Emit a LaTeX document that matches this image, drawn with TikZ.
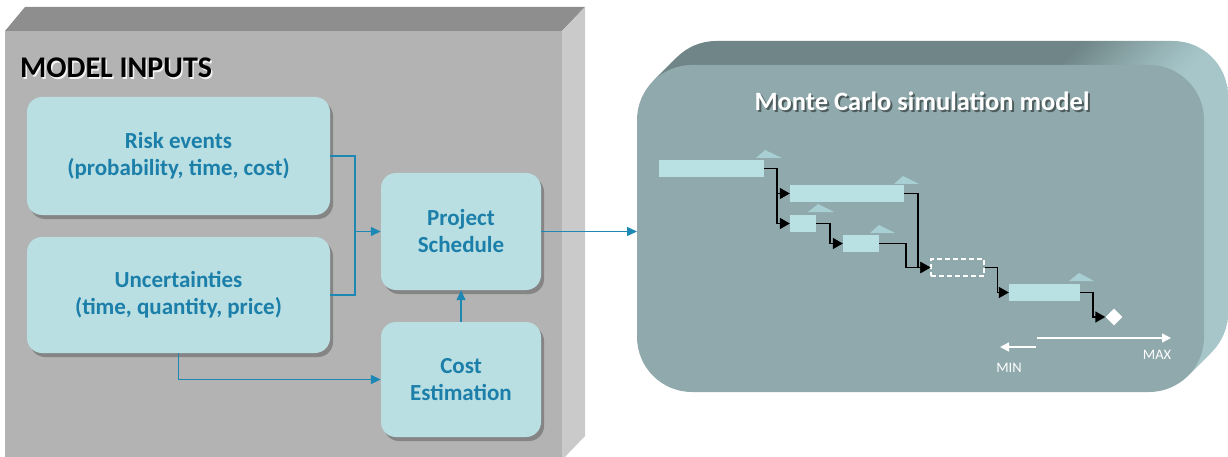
\documentclass[tikz,border=0pt]{standalone}
\usepackage{fontspec}
\setmainfont{Carlito}
\usetikzlibrary{arrows.meta,shadows,shapes.geometric}

\definecolor{boxfront}{HTML}{B3B3B3}
\definecolor{boxtop}{HTML}{8E8E8E}
\definecolor{boxside}{HTML}{CACACA}
\definecolor{cardfill}{HTML}{B9DFE2}
\definecolor{cardtext}{HTML}{1B7FAA}
\definecolor{cardshadow}{HTML}{858585}
\definecolor{linkblue}{HTML}{1E88B5}
\definecolor{mcfront}{HTML}{8FA9AC}
\definecolor{mctop}{HTML}{6F8587}
\definecolor{mcside}{HTML}{A6C6C9}
\definecolor{barfill}{HTML}{B9E0E3}
\definecolor{bartip}{HTML}{A8CFD3}

\pgfdeclarehorizontalshading{mcdepth}{100bp}{color(0bp)=(mctop); color(62bp)=(mctop); color(73bp)=(mcside); color(100bp)=(mcside)}

\tikzset{
  card/.style={draw=none, fill=cardfill, rounded corners=15pt, text=cardtext,
    font=\bfseries\fontsize{23}{27}\selectfont, align=center, inner sep=0pt,
    drop shadow={shadow xshift=3pt, shadow yshift=-4pt, fill=cardshadow, opacity=1}},
  link/.style={draw=linkblue, line width=1.4pt},
  linkarrow/.style={link, -{Triangle[length=10pt,width=9pt]}},
  bar/.style={fill=barfill, draw=none, inner sep=0pt, minimum height=17pt},
  gline/.style={draw=black, line width=1.5pt},
  garrow/.style={gline, -{Triangle[length=10pt,width=11pt]}},
  tip/.style={fill=bartip, draw=none},
  scale arrow/.style={draw=white, line width=1.4pt, -{Triangle[length=9pt,width=9pt]}},
  scale label/.style={text=white, font=\fontsize{14.5}{16}\selectfont, inner sep=0pt}
}

\begin{document}
\begin{tikzpicture}[x=1pt,y=-1pt]
\useasboundingbox (0,0) rectangle (1228,457);

% ---- input block (extruded box) ----
\fill[boxtop] (5,31) -- (25,7) -- (585,7) -- (562,31) -- cycle;
\fill[boxside] (562,31) -- (585,7) -- (585,436) -- (562,460) -- cycle;
\fill[boxfront] (5,31) rectangle (562,460);

\node[anchor=base west, text=white, opacity=0.85, font=\bfseries\fontsize{30}{32}\selectfont, inner sep=0pt] at (21.5,79.5) {MODEL INPUTS};
\node[anchor=base west, text=black, font=\bfseries\fontsize{30}{32}\selectfont, inner sep=0pt] (title) at (20,78) {MODEL INPUTS};

\node[card, minimum width=303pt, minimum height=118pt] (risk) at (178.5,156) {Risk events\\(probability, time, cost)};
\node[card, minimum width=303pt, minimum height=116pt] (unc) at (178.5,295) {Uncertainties\\(time, quantity, price)};
\node[card, minimum width=160pt, minimum height=117pt] (proj) at (461,231.5) {Project\\Schedule};
\node[card, minimum width=160pt, minimum height=115pt] (cost) at (461,379.5) {Cost\\Estimation};

\coordinate (join) at (355,231.5);
\draw[link] (risk.east) -| (join);
\draw[link] (unc.east) -| (join);
\draw[linkarrow] (join) -- (proj.west);
\draw[linkarrow] (unc.south) |- (cost.west);
\draw[linkarrow] (cost.north) -- (proj.south);

% ---- simulation block (extruded rounded box) ----
\foreach \d in {24,22,...,2}{
  \shade[shading=mcdepth, rounded corners=55pt] (637+\d,65-\d) rectangle (1204+\d,392-\d);
}
\fill[mcfront, rounded corners=55pt] (637,65) rectangle (1204,392);

\coordinate (mcin) at (637,231.5);
\draw[linkarrow] (proj.east) -- (mcin);

\node[anchor=base, text=black, opacity=0.45, font=\bfseries\fontsize{26.5}{28}\selectfont, inner sep=0pt] at (924,113) {Monte Carlo simulation model};
\node[anchor=base, text=white, font=\bfseries\fontsize{26.5}{28}\selectfont, inner sep=0pt] (mctitle) at (922,111) {Monte Carlo simulation model};

% schedule bars
\node[bar, minimum width=105pt] (b1) at (711.5,168.5) {};
\node[bar, minimum width=114pt] (b2) at (847,193.5) {};
\node[bar, minimum width=26pt]  (b3) at (803,223.5) {};
\node[bar, minimum width=36pt]  (b4) at (861,243.5) {};
\node[draw=white, dash pattern=on 5pt off 3pt, line width=1.2pt, inner sep=0pt, minimum width=53pt, minimum height=17pt] (b5) at (957.5,267.5) {};
\node[bar, minimum width=71pt]  (b6) at (1044.5,292.5) {};
\node[diamond, fill=white, inner sep=0pt, minimum width=17pt, minimum height=17pt] (milestone) at (1114,317) {};

% duration markers
\fill[tip] (756,158) -- (765,150) -- (782,158) -- cycle;
\fill[tip] (894,184) -- (903,176) -- (919,184) -- cycle;
\fill[tip] (808,212) -- (818,204) -- (834,212) -- cycle;
\fill[tip] (870,233) -- (879,225) -- (895,233) -- cycle;
\fill[tip] (1069,281) -- (1079,273) -- (1094,281) -- cycle;

% dependencies
\draw[garrow] (b1.east) -- ++(13,0) |- (b2.west);
\draw[garrow] (b1.east) -- ++(13,0) |- (b3.west);
\draw[garrow] (b3.east) -- ++(14,0) |- (b4.west);
\draw[garrow] (b4.east) -- ++(27,0) |- (b5.west);
\draw[garrow] (b2.east) -- ++(14,0) |- (b5.west);
\draw[garrow] (b5.east) -- ++(13,0) |- (b6.west);
\draw[garrow] (b6.east) -- ++(13,0) |- (milestone.west);

% range scale
\coordinate (maxfrom) at (1037,338);
\coordinate (maxto) at (1171,338);
\coordinate (minfrom) at (1036,347);
\coordinate (minto) at (1000,347);
\draw[scale arrow] (maxfrom) -- (maxto);
\draw[scale arrow] (minfrom) -- (minto);
\node[scale label, anchor=base] (minlabel) at (1009,372) {MIN};
\node[scale label, anchor=base] (maxlabel) at (1157,359) {MAX};
\end{tikzpicture}
\end{document}
